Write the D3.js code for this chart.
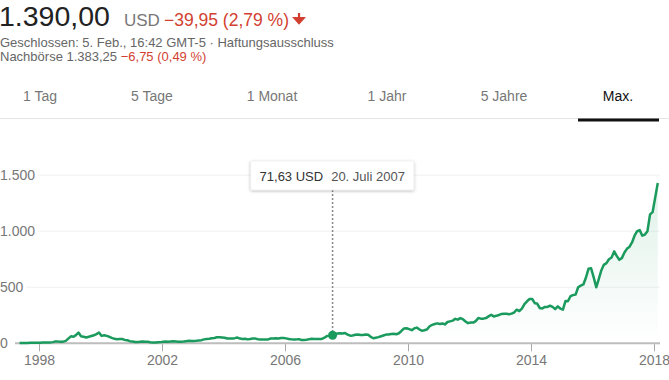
<!DOCTYPE html>
<html>
<head>
<meta charset="utf-8">
<title>Kursverlauf Max.</title>
<script src="https://d3js.org/d3.v7.min.js"></script>
<style>
  body { margin: 0; background: #fff; }
  svg { display: block; font-family: "Liberation Sans", Arial, sans-serif; }
  .grid { stroke: #f1f1f1; stroke-width: 1; }
  .axis-label { fill: #777; font-size: 14px; }
  .tab { font-size: 14px; text-anchor: middle; }
</style>
</head>
<body>
<script>
// header values
var price = "1.390,00", currency = "USD", change = "\u221239,95 (2,79 %)";
var closedText = "Geschlossen: 5. Feb., 16:42 GMT-5 \u00b7 Haftungsausschluss";
var afterHours = "Nachb\u00f6rse 1.383,25 ", afterChange = "\u22126,75 (0,49 %)";
var tabs = ["1 Tag", "5 Tage", "1 Monat", "1 Jahr", "5 Jahre", "Max."];
var tabCenters = [40, 152, 272, 387, 504, 618];

// axes
var yTicks = [0, 500, 1000, 1500];
var yTickLabels = ["0", "500", "1.000", "1.500"];
var xTicks = [1998, 2002, 2006, 2010, 2014, 2018];

// monthly price (USD), starting May 1997, one row per year
var firstMonth = "1997-05";
var monthlyClose = [
  1.6, 1.9, 2.7, 2.6, 3.9, 4.2, 4.3, 5.0,
  5.1, 6.3, 7.0, 7.8, 8.2, 10.5, 17.0, 15.0, 14.0, 14.5, 22.0, 42.0,
  62.0, 58.0, 73.0, 96.0, 63.0, 58.0, 52.0, 58.0, 65.0, 72.0, 82.0, 96.0,
  66.0, 72.0, 66.0, 58.0, 48.0, 40.0, 36.0, 38.0, 38.0, 30.0, 27.0, 19.0,
  16.0, 11.0, 10.5, 13.0, 15.5, 14.5, 13.0, 9.5, 7.0, 7.5, 9.0, 10.5,
  13.0, 15.0, 14.5, 16.5, 18.0, 17.0, 14.5, 14.5, 16.0, 19.0, 22.0, 20.0,
  21.0, 22.5, 26.0, 28.0, 35.0, 38.0, 41.0, 45.0, 48.0, 54.0, 54.0, 52.0,
  50.0, 43.0, 42.0, 43.0, 46.0, 51.0, 42.0, 38.0, 41.0, 35.0, 39.0, 43.0,
  42.0, 36.0, 34.0, 33.0, 35.0, 35.0, 43.0, 43.0, 45.0, 42.0, 47.0, 47.0,
  44.0, 38.0, 36.0, 35.0, 35.0, 37.0, 30.0, 30.0, 31.0, 37.0, 40.0, 39.0,
  38.0, 39.0, 39.0, 50.0, 66.0, 68.0, 72.0, 78.0, 88.0, 89.0, 88.0, 92.0,
  78.0, 68.0, 70.0, 76.0, 79.0, 74.0, 75.0, 78.0, 76.0, 58.0, 45.0, 50.0,
  55.0, 63.0, 70.0, 78.0, 78.0, 83.0, 85.0, 81.0, 90.0, 110.0, 133.0, 134.0,
  126.0, 117.0, 133.0, 140.0, 125.0, 112.0, 116.0, 124.0, 152.0, 164.0, 172.0, 178.0,
  172.0, 177.0, 168.0, 190.0, 196.0, 202.0, 218.0, 211.0, 225.0, 215.0, 195.0, 180.0,
  185.0, 185.0, 198.0, 225.0, 220.0, 220.0, 225.0, 240.0, 255.0, 240.0, 245.0, 252.0,
  262.0, 264.0, 264.0, 260.0, 265.0, 275.0, 300.0, 288.0, 310.0, 350.0, 375.0, 395.0,
  395.0, 358.0, 355.0, 315.0, 310.0, 325.0, 325.0, 335.0, 325.0, 305.0, 330.0, 310.0,
  300.0, 378.0, 375.0, 420.0, 430.0, 435.0, 500.0, 515.0, 525.0, 585.0, 665.0, 670.0,
  590.0, 500.0, 570.0, 650.0, 700.0, 715.0, 750.0, 765.0, 820.0, 780.0, 745.0, 760.0,
  810.0, 845.0, 860.0, 900.0, 960.0, 1000.0, 1010.0, 960.0, 970.0, 1000.0, 1150.0, 1170.0,
  1300.0, 1430.0
];

// highlighted point
var hoverDate = "2007-07-20", hoverValue = 71.63;
var hoverLabel = "71,63 USD", hoverDateLabel = "20. Juli 2007";

var width = 669, height = 380;
var green = "#1a9a5c", red = "#d23f31";

var svg = d3.select("body").append("svg")
    .attr("width", width)
    .attr("height", height);

// ---- header ----
svg.append("text").attr("x", -1).attr("y", 26)
    .attr("font-size", 28.5).attr("fill", "#222").text(price);
svg.append("text").attr("x", 124).attr("y", 26)
    .attr("font-size", 17).attr("fill", "#777").text(currency);
var chg = svg.append("text").attr("x", 164).attr("y", 26)
    .attr("font-size", 17.5).attr("fill", red).text(change);
var chgEnd = 164 + chg.node().getComputedTextLength();
// down arrow
svg.append("path")
    .attr("d", "M" + (chgEnd + 10) + ",13 v7 M" + (chgEnd + 5.5) + ",18 l4.5,5 l4.5,-5 z")
    .attr("stroke", red).attr("stroke-width", 2.2).attr("fill", red);

svg.append("text").attr("x", 0).attr("y", 47)
    .attr("font-size", 13).attr("fill", "#666").text(closedText);
var ah = svg.append("text").attr("x", 0).attr("y", 61).attr("font-size", 13);
ah.append("tspan").attr("fill", "#666").text(afterHours);
ah.append("tspan").attr("fill", red).text(afterChange);

// ---- tabs ----
svg.selectAll(".tab").data(tabs).enter().append("text")
    .attr("class", "tab")
    .attr("x", function(d, i) { return tabCenters[i]; })
    .attr("y", 101)
    .attr("fill", function(d, i) { return i === tabs.length - 1 ? "#111" : "#777"; })
    .text(function(d) { return d; });
svg.append("line").attr("x1", 0).attr("x2", width).attr("y1", 118.5).attr("y2", 118.5)
    .attr("stroke", "#e4e4e4").attr("stroke-width", 1);
svg.append("line").attr("x1", 578).attr("x2", 659).attr("y1", 120).attr("y2", 120)
    .attr("stroke", "#111").attr("stroke-width", 3);

// ---- chart ----
var parseMonth = d3.timeParse("%Y-%m");
var start = parseMonth(firstMonth);
var data = monthlyClose.map(function(v, i) {
  return { date: d3.timeDay.offset(d3.timeMonth.offset(start, i), 14), value: v };
});

var x = d3.scaleTime()
    .domain([new Date(1998, 0, 1), new Date(2018, 0, 1)])
    .range([39, 654]);
var y = d3.scaleLinear()
    .domain([0, 1500])
    .range([343.3, 175.2]);

// grid lines + y labels
var yl = svg.append("g");
yTicks.forEach(function(t, i) {
  var lab = yl.append("text").attr("class", "axis-label")
      .attr("x", 0).attr("y", y(t) + 5).text(yTickLabels[i]);
  if (t > 0) {
    var w = lab.node().getComputedTextLength();
    yl.insert("line", "text").attr("class", "grid")
        .attr("x1", w + 3).attr("x2", 660)
        .attr("y1", y(t)).attr("y2", y(t));
  }
});

var defs = svg.append("defs");
var grad = defs.append("linearGradient").attr("id", "areaGrad")
    .attr("gradientUnits", "userSpaceOnUse")
    .attr("x1", 0).attr("x2", 0).attr("y1", y(1500)).attr("y2", y(0));
grad.append("stop").attr("offset", "0%").attr("stop-color", green).attr("stop-opacity", 0.14);
grad.append("stop").attr("offset", "100%").attr("stop-color", green).attr("stop-opacity", 0);

var shadow = defs.append("filter").attr("id", "shadow")
    .attr("x", "-10%").attr("y", "-30%").attr("width", "120%").attr("height", "180%");
shadow.append("feDropShadow").attr("dx", 0).attr("dy", 1).attr("stdDeviation", 1.5)
    .attr("flood-color", "#000").attr("flood-opacity", 0.28);

svg.append("path").datum(data)
    .attr("fill", "url(#areaGrad)")
    .attr("d", d3.area().x(function(d) { return x(d.date); })
        .y0(y(0)).y1(function(d) { return y(d.value); }));

// baseline + x axis
var xAxis = d3.axisBottom(x)
    .tickValues(xTicks.map(function(yr) { return new Date(yr, 0, 1); }))
    .tickFormat(d3.timeFormat("%Y"))
    .tickSize(8).tickPadding(4);
var ax = svg.append("g").attr("transform", "translate(0," + y(0) + ")").call(xAxis);
ax.select(".domain").remove();
ax.selectAll(".tick line").attr("stroke", "#aaa").attr("stroke-width", 1);
ax.selectAll(".tick text").attr("class", "axis-label")
    .attr("font-family", null).attr("font-size", null).attr("fill", null);
svg.append("line").attr("x1", 15).attr("x2", 660).attr("y1", y(0)).attr("y2", y(0))
    .attr("stroke", "#bdbdbd").attr("stroke-width", 2);

svg.append("path").datum(data)
    .attr("fill", "none").attr("stroke", green).attr("stroke-width", 2.5)
    .attr("stroke-linejoin", "round")
    .attr("d", d3.line().x(function(d) { return x(d.date); })
        .y(function(d) { return y(d.value); }));

// ---- hover marker + tooltip ----
var hx = x(d3.timeParse("%Y-%m-%d")(hoverDate)), hy = y(hoverValue);
svg.append("line").attr("x1", hx).attr("x2", hx).attr("y1", 190).attr("y2", hy)
    .attr("stroke", "#888").attr("stroke-width", 1.5).attr("stroke-dasharray", "2,2");
svg.append("circle").attr("cx", hx).attr("cy", hy).attr("r", 4.5).attr("fill", green);

var tip = svg.append("g");
var tipRect = tip.append("rect").attr("y", 161).attr("height", 29)
    .attr("fill", "#fff").attr("stroke", "#e6e6e6").attr("stroke-width", 0.5)
    .attr("filter", "url(#shadow)").attr("rx", 1);
var tipText = tip.append("text").attr("x", hx - 73).attr("y", 181).attr("font-size", 13);
tipText.append("tspan").attr("fill", "#333").text(hoverLabel);
tipText.append("tspan").attr("fill", "#555").attr("dx", 8).text(hoverDateLabel);
var tw = tipText.node().getComputedTextLength() + 8;
tipRect.attr("x", hx - 82).attr("width", tw + 18);
</script>
</body>
</html>
